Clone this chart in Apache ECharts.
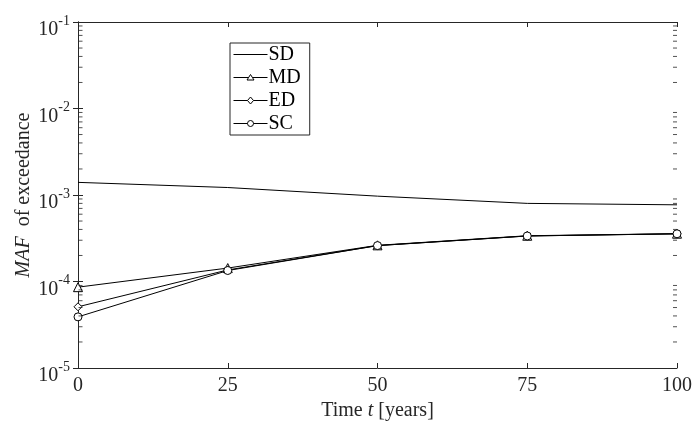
<!DOCTYPE html>
<html>
<head>
<meta charset="utf-8">
<script src="https://cdn.jsdelivr.net/npm/echarts@6/dist/echarts.min.js"></script>
<style>html,body{margin:0;padding:0;background:#fff;}#chart{width:696px;height:426px;}</style>
</head>
<body>
<div id="chart"></div>
<script>
const years = [0, 25, 50, 75, 100];
const sdValues = [1.40e-3, 1.22e-3, 9.7e-4, 8.0e-4, 7.7e-4];
const mdValues = [8.6e-5, 1.43e-4, 2.62e-4, 3.38e-4, 3.57e-4];
const edValues = [5.1e-5, 1.36e-4, 2.6e-4, 3.36e-4, 3.56e-4];
const scValues = [3.9e-5, 1.34e-4, 2.6e-4, 3.36e-4, 3.56e-4];
const seriesNames = ['SD', 'MD', 'ED', 'SC'];

// minor tick positions of the log axis (2..9 x each decade)
const minorTickValues = [];
for (let e = -5; e <= -2; e++) {
  for (let m = 2; m <= 9; m++) minorTickValues.push(m * Math.pow(10, e));
}

const FONT = 'Liberation Serif';
const AX = '#262626';
const FS = 20;
const pair = (vals) => years.map((x, i) => [x, vals[i]]);

const BOX = 'M0,0 M34,8 ';
const legendIcons = {
  SD: 'path://' + BOX + 'M0,4 L34,4',
  MD: 'path://' + BOX + 'M0,4 L14.6,4 M19.4,4 L34,4 M17,1 L20.5,6.5 L13.5,6.5 Z',
  ED: 'path://' + BOX + 'M0,4 L14,4 M20,4 L34,4 M17,0.5 L20,4 L17,7.5 L14,4 Z',
  SC: 'path://' + BOX + 'M0,4 L14,4 M20,4 L34,4 M14,4 A3,3 0 1,0 20,4 A3,3 0 1,0 14,4 Z'
};

const chart = echarts.init(document.getElementById('chart'));
const lineSeries = (name, vals, symbol, z) => ({
  name, type: 'line', data: pair(vals), z,
  symbol, symbolSize: symbol === 'triangle' ? 9 : 8,
  showSymbol: symbol !== 'none',
  lineStyle: { color: '#000', width: 1 },
  itemStyle: { color: '#fff', borderColor: '#000', borderWidth: 1 },
  animation: false
});

const minorTickSeries = (xEdge, offset) => ({
  type: 'scatter', name: 'minor' + xEdge, silent: true, clip: false, z: 10,
  data: minorTickValues.map((v) => [xEdge, v]),
  symbol: 'rect', symbolSize: [4, 1], symbolOffset: [offset, 0],
  itemStyle: { color: AX }, animation: false,
  emphasis: { disabled: true }
});

chart.setOption({
  animation: false,
  grid: { left: 78, right: 19, top: 22, bottom: 58 },
  legend: {
    data: seriesNames.map((n) => ({
      name: n, icon: legendIcons[n],
      itemStyle: { color: '#fff', borderColor: '#000', borderWidth: 1 }
    })),
    left: 230, top: 43, orient: 'vertical',
    itemWidth: 34, itemHeight: 8, itemGap: 0,
    padding: [0, 9, 0, 3],
    borderColor: AX, borderWidth: 1,
    textStyle: { fontFamily: FONT, fontSize: FS, color: '#000', padding: [0, 0, 0, -4], lineHeight: 23 },
    selectedMode: false
  },
  xAxis: [{
    type: 'value', min: 0, max: 100, interval: 25,
    name: 'Time {i|t} [years]', nameLocation: 'middle', nameGap: 29,
    nameTextStyle: { fontFamily: FONT, fontSize: FS, color: AX,
      rich: { i: { fontFamily: FONT, fontSize: FS, fontStyle: 'italic', color: AX } } },
    axisLine: { lineStyle: { color: AX, width: 1 } },
    axisTick: { inside: true, length: 5, lineStyle: { color: AX } },
    axisLabel: { fontFamily: FONT, fontSize: FS, color: AX, margin: 8 },
    splitLine: { show: false }
  }, {
    type: 'value', min: 0, max: 100, interval: 25, position: 'top',
    axisLine: { lineStyle: { color: AX, width: 1 } },
    axisTick: { inside: true, length: 5, lineStyle: { color: AX } },
    axisLabel: { show: false }, splitLine: { show: false }
  }],
  yAxis: [{
    type: 'log', logBase: 10, min: 1e-5, max: 1e-1, splitNumber: 4,
    name: '{i|MAF}  of exceedance', nameLocation: 'middle', nameGap: 44, nameMoveOverlap: false,
    nameTextStyle: { fontFamily: FONT, fontSize: FS, color: AX,
      rich: { i: { fontFamily: FONT, fontSize: FS, fontStyle: 'italic', color: AX } } },
    axisLine: { show: true, lineStyle: { color: AX, width: 1 } },
    axisTick: { inside: true, length: 5, lineStyle: { color: AX } },
    axisLabel: {
      fontFamily: FONT, color: AX, margin: 8,
      formatter: (v) => '{b|10}{s|' + Math.round(Math.log10(v)) + '}',
      rich: {
        b: { fontFamily: FONT, fontSize: FS, color: AX, padding: [16, 0, 0, 0] },
        s: { fontFamily: FONT, fontSize: 14, color: AX, padding: [0, 0, 2, 0] }
      }
    },
    splitLine: { show: false }
  }, {
    type: 'log', logBase: 10, min: 1e-5, max: 1e-1, splitNumber: 4, position: 'right',
    axisLine: { show: true, lineStyle: { color: AX, width: 1 } },
    axisTick: { inside: true, length: 5, lineStyle: { color: AX } },
    axisLabel: { show: false }, splitLine: { show: false }
  }],
  series: [
    minorTickSeries(0, 2.5),
    minorTickSeries(100, -2),
    lineSeries('SD', sdValues, 'none', 2),
    lineSeries('MD', mdValues, 'triangle', 3),
    lineSeries('ED', edValues, 'diamond', 4),
    lineSeries('SC', scValues, 'circle', 5)
  ]
});
</script>
</body>
</html>
